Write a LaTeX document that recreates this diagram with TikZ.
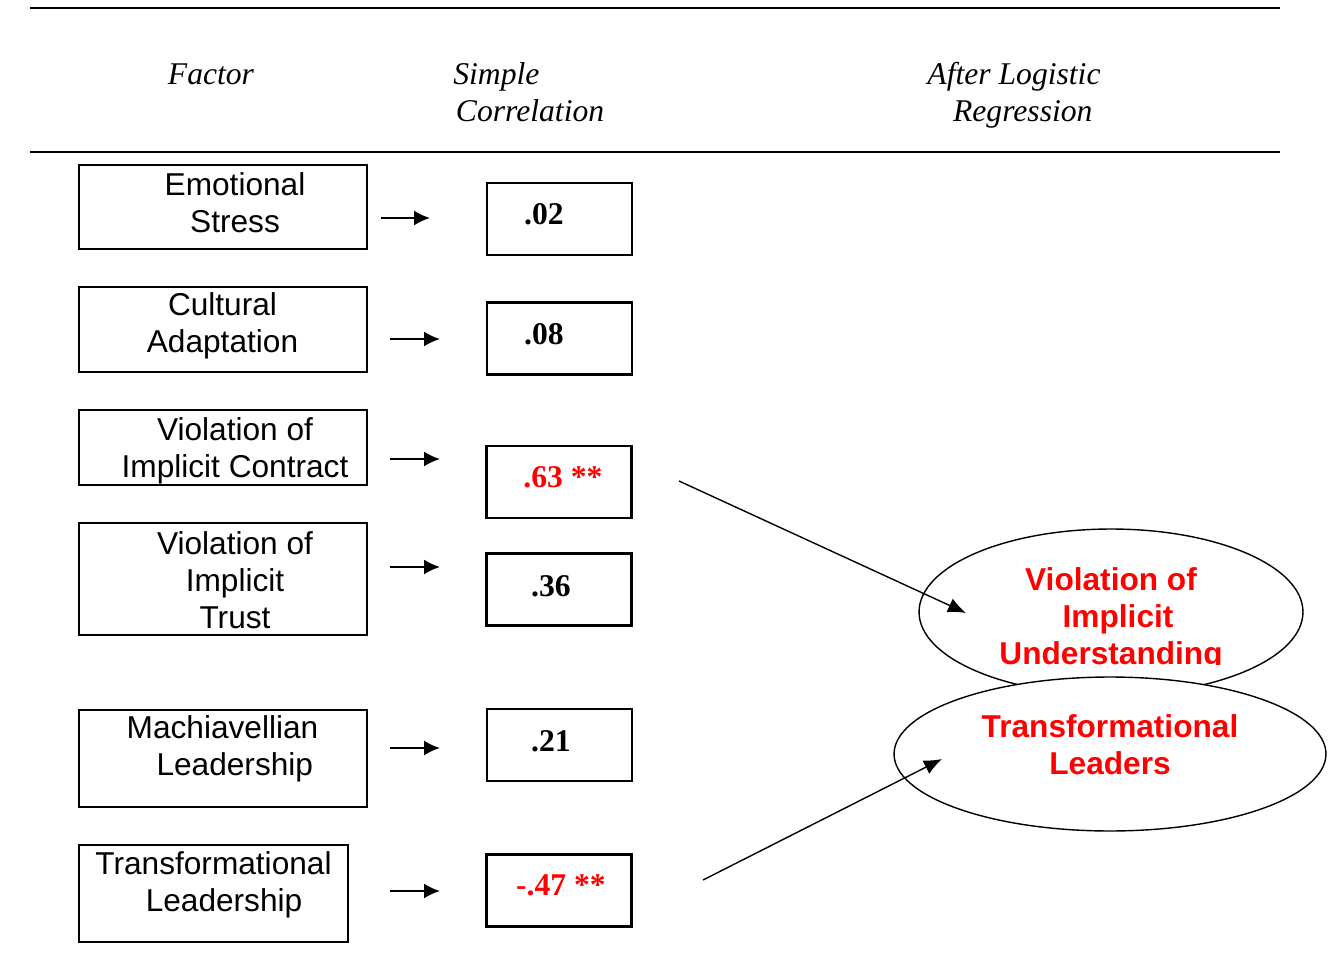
\documentclass[tikz,border=0pt]{standalone}
\usepackage{fontspec}
\setmainfont{Liberation Serif}
\setsansfont{Liberation Sans}
\usetikzlibrary{shapes,arrows.meta,positioning,calc}

\tikzset{
  factorbox/.style={draw, line width=1.1pt, minimum width=5.76cm, inner sep=0pt},
  factortext/.style={font=\sffamily\fontsize{18}{21}\selectfont, align=center, inner sep=0pt},
  corrbox/.style={draw, line width=1.2pt, minimum width=2.9cm, minimum height=1.44cm, inner sep=0pt},
  corrtext/.style={font=\bfseries\fontsize{18}{21}\selectfont, inner sep=0pt},
  headtext/.style={font=\itshape\fontsize{18}{21}\selectfont, inner sep=0pt},
  outcome/.style={ellipse, draw, line width=0.8pt, fill=white, inner sep=0pt},
  outtext/.style={font=\sffamily\bfseries\fontsize{18}{21}\selectfont, text=red, align=center, inner sep=0pt},
  shortarrow/.style={-{Latex[length=0.32cm,width=0.3cm]}, line width=1.1pt},
  longarrow/.style={-{Latex[length=0.36cm,width=0.3cm]}, line width=0.8pt},
}

\begin{document}
\begin{tikzpicture}[x=0.02cm, y=-0.02cm]
    \useasboundingbox (0,0) rectangle (1334,976);

    % Header rules and column titles
    \draw[line width=1.1pt] (30,8) -- (1280,8);
    \draw[line width=1.1pt] (30,152) -- (1280,152);
    \node[headtext] (hfactor) at (211,74) {Factor};
    \node[headtext, align=left, anchor=west] (hsimple) at (453,92) {Simple\\\hspace{1.5pt}Correlation};
    \node[headtext, align=center] (hafter) at (1014,95) {After Logistic\\\hspace{10pt}Regression};

    % Factor boxes
    \node[factorbox, minimum height=1.68cm] (f1) at (223,207) {};
    \node[factorbox, minimum height=1.7cm] (f2) at (223,329.5) {};
    \node[factorbox, minimum height=1.5cm] (f3) at (223,447.5) {};
    \node[factorbox, minimum height=2.24cm] (f4) at (223,579) {};
    \node[factorbox, minimum height=1.94cm] (f5) at (223,758.5) {};
    \node[factorbox, minimum width=5.38cm, minimum height=1.94cm] (f6) at (213.5,893.5) {};

    \node[factortext] (t1) at (235,203) {Emotional\\Stress};
    \node[factortext] (t2) at (222.5,326) {Cultural\\Adaptation};
    \node[factortext] (t3) at (235,451) {Violation of\\Implicit Contract};
    \node[factortext] (t4) at (235,580) {Violation of\\Implicit\\Trust};
    \node[factortext] (t5) at (222.5,749) {Machiavellian\\\hspace{14pt}Leadership};
    \node[factortext] (t6) at (213.5,885) {Transformational\\\hspace{12pt}Leadership};

    % Short arrows
    \foreach \i/\xa/\xb/\y in {1/381/430/218, 2/390/440/339, 3/390/440/459,
                               4/390/440/567, 5/390/440/748, 6/390/440/891}{
        \coordinate (s\i) at (\xa,\y);
        \coordinate (e\i) at (\xb,\y);
        \draw[shortarrow] (s\i) -- (e\i);
    }

    % Simple correlation boxes
    \node[corrbox] (c1) at (559.5,219) {};
    \node[corrbox] (c2) at (559.5,338.5) {};
    \node[corrbox] (c3) at (559,482) {};
    \node[corrbox] (c4) at (559,589.5) {};
    \node[corrbox] (c5) at (559.5,745) {};
    \node[corrbox] (c6) at (559,890.5) {};

    \node[corrtext] (v1) at (544,214) {.02};
    \node[corrtext] (v2) at (544,334) {.08};
    \node[corrtext, text=red] (v3) at (563,477) {.63 **};
    \node[corrtext] (v4) at (551,586) {.36};
    \node[corrtext] (v5) at (551,741) {.21};
    \node[corrtext, text=red] (v6) at (561,885) {-.47 **};

    % After logistic regression
    \node[outcome, minimum width=7.68cm, minimum height=3.32cm] (o1) at (1111,612) {};
    \begin{scope}
        \clip (900,540) rectangle (1320,664);
        \node[outtext] (ot1) at (1111,619) {Violation of\\\hspace{8pt}Implicit\\Understanding};
    \end{scope}
    \coordinate (p3) at (679,481);
    \coordinate (q3) at (966,613);
    \draw[longarrow] (p3) -- (q3);

    \node[outcome, minimum width=8.64cm, minimum height=3.08cm] (o2) at (1110,754) {};
    \node[outtext] (ot2) at (1110,745) {Transformational\\Leaders};
    \coordinate (p6) at (703,880);
    \coordinate (q6) at (942,759);
    \draw[longarrow] (p6) -- (q6);
\end{tikzpicture}
\end{document}
